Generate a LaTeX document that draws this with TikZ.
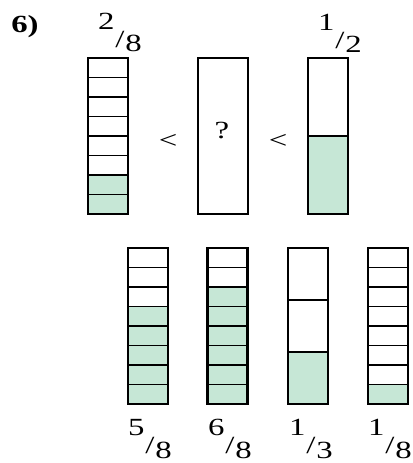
\documentclass[tikz,border=0pt]{standalone}
\usepackage{fontspec}
\setmainfont{Liberation Serif}
\definecolor{mint}{RGB}{198,231,214}
\newcommand\lblfont{\fontsize{18.5pt}{20pt}\selectfont}
\tikzset{
  part/.style={line width=1.4pt},
  frame/.style={draw,line width=1.6pt},
  lbl/.style={font=\lblfont,inner sep=0pt},
}
\newcommand\wide[1]{\scalebox{1.33}[1]{#1}}
\newcommand\frc[2]{\wide{\raisebox{.9em}{#1}\kern.5pt\raisebox{.2em}{/}\kern.5pt#2}}
% strip: left x, top y, parts, filled parts (from below)
\newcommand\strip[4]{%
  \fill[mint] (#1,#2+156-156*#4/#3) rectangle (#1+40,#2+156);
  \foreach \k in {1,...,#3} \draw[part] (#1,#2+156*\k/#3)--(#1+40,#2+156*\k/#3);
  \draw[frame] (#1,#2) rectangle (#1+40,#2+156);}
\begin{document}
\begin{tikzpicture}[x=.75pt,y=-.75pt]
\useasboundingbox (0,0) rectangle (413,463);
\node[lbl,font=\lblfont\bfseries] at (25,27) (num) {\wide{6)}};
% upper row
\strip{88}{58}{8}{2}
\draw[frame] (198,58) rectangle (248,214);
\strip{308}{58}{2}{1}
\node[lbl,anchor=base] at (120,52) (f28) {\frc{2}{8}};
\node[lbl,anchor=base] at (340,53) (f12) {\frc{1}{2}};
\node[lbl] at (168,141) (lt1) {\wide{<}};
\node[lbl] at (278,141) (lt2) {\wide{<}};
\node[lbl] at (222,131) (q) {\wide{?}};
% lower row
\strip{128}{248}{8}{5}
\strip{207.5}{248}{8}{6}
\strip{288}{248}{3}{1}
\strip{368}{248}{8}{1}
\node[lbl,anchor=base] at (150,458) (f58) {\frc{5}{8}};
\node[lbl,anchor=base] at (230,458) (f68) {\frc{6}{8}};
\node[lbl,anchor=base] at (311,458) (f13) {\frc{1}{3}};
\node[lbl,anchor=base] at (390,458) (f18) {\frc{1}{8}};
\end{tikzpicture}
\end{document}
